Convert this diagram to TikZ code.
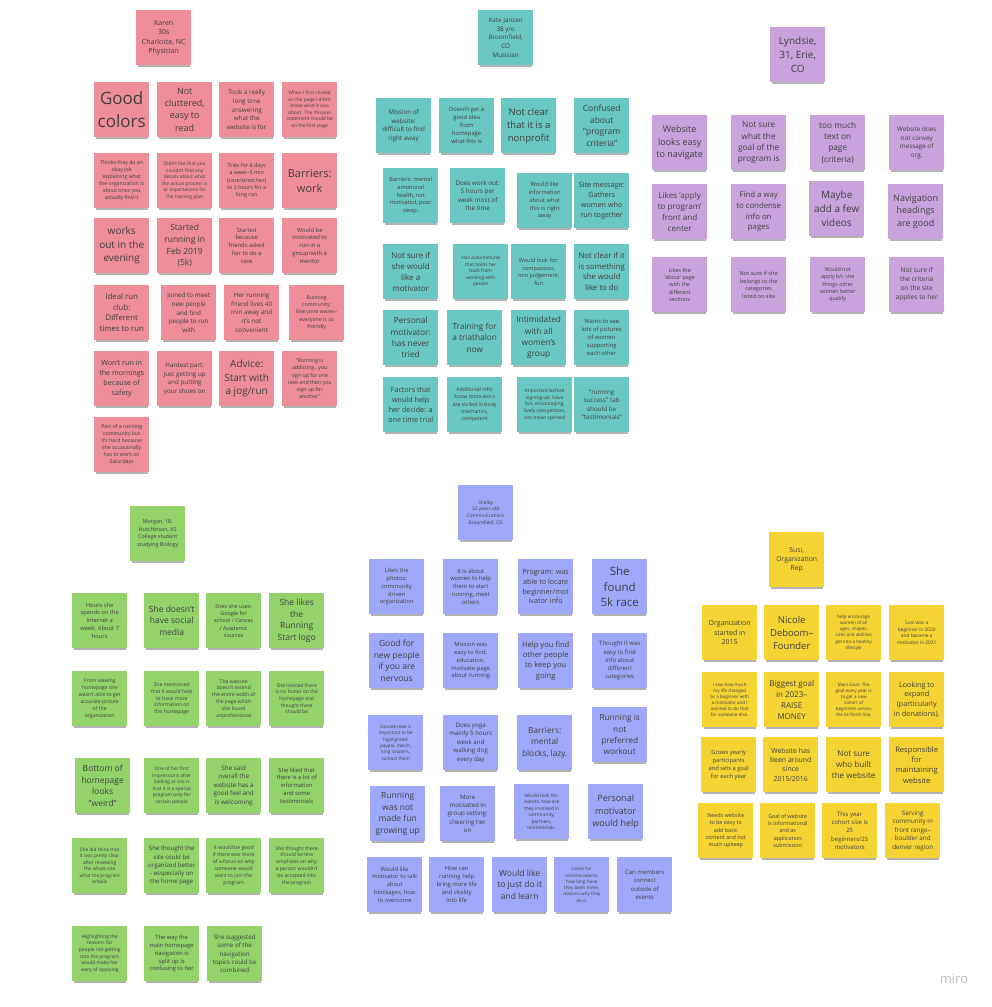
\documentclass[tikz,border=0pt]{standalone}
\usepackage{fontspec}
\setmainfont{Open Sans}
\usetikzlibrary{shadows}
\definecolor{pinkc}{HTML}{EF8D9A}
\definecolor{tealc}{HTML}{69C8C1}
\definecolor{purplec}{HTML}{C9A4DC}
\definecolor{greenc}{HTML}{93D36A}
\definecolor{bluec}{HTML}{A0A8FB}
\definecolor{yellowc}{HTML}{F5D332}
\definecolor{txtc}{HTML}{404040}
\tikzset{
  note/.style={anchor=north west, minimum width=55, minimum height=55, inner sep=1pt,
    align=center, text=txtc,
    drop shadow={shadow xshift=0pt, shadow yshift=-3.5pt, shadow scale=0.94, opacity=0.3, fill=black}},
  fs/.style={font={\pgfmathsetmacro\lh{#1*1.36}\fontsize{#1}{\lh}\selectfont}}
}
\newcommand\nt[6]{\node[note,fill=#1,fs=#5] (#2) at (#3,#4) {#6};}
\begin{document}
\begin{tikzpicture}[x=1pt,y=-1pt]
\fill[white] (0,0) rectangle (992,1007);
\useasboundingbox (0,0) rectangle (992,1007);
% ---------------- Karen
\nt{pinkc}{k0}{136}{10}{7}{Karen\\30s\\Charlotte, NC\\Physician}
\nt{pinkc}{k1}{94}{82}{17}{Good\\colors}
\nt{pinkc}{k2}{157}{82}{9}{Not\\cluttered,\\easy to\\read}
\nt{pinkc}{k3}{219}{82}{6.3}{Took a really\\long time\\answering\\what the\\website is for}
\nt{pinkc}{k4}{282}{82}{4.8}{When I first clicked\\on the page I didn't\\know what it was\\about. The mission\\statement should be\\on the first page}
\nt{pinkc}{k5}{94}{153}{5.2}{Thinks they do an\\okay job\\explaining what\\the organization is\\about once you\\actually find it}
\nt{pinkc}{k6}{157}{153}{4.8}{Didn't like that you\\couldn't find any\\details about what\\the actual process is\\or expectations for\\the training plan}
\nt{pinkc}{k7}{219}{153}{5.4}{Tries for 6 days\\a week--5 min\\(core/stretches)\\to 2 hours for a\\long run}
\nt{pinkc}{k8}{282}{153}{11}{Barriers:\\work}
\nt{pinkc}{k9}{94}{218}{10}{works\\out in the\\evening}
\nt{pinkc}{k10}{157}{218}{8.5}{Started\\running in\\Feb 2019\\(5k)}
\nt{pinkc}{k11}{219}{218}{5.8}{Started\\because\\friends asked\\her to do a\\race}
\nt{pinkc}{k12}{282}{218}{5.8}{Would be\\motivated to\\run in a\\group/with a\\mentor}
\nt{pinkc}{k13}{94}{285}{7.8}{Ideal run\\club:\\Different\\times to run}
\nt{pinkc}{k14}{161}{285}{6.3}{joined to meet\\new people\\and find\\people to run\\with}
\nt{pinkc}{k15}{224}{285}{6.3}{Her running\\friend lives 40\\min away and\\it's not\\convenient}
\nt{pinkc}{k16}{289}{285}{5.2}{Running\\community:\\Everyone waves--\\everyone is so\\friendly}
\nt{pinkc}{k17}{94}{351}{7.2}{Won't run in\\the mornings\\because of\\safety}
\nt{pinkc}{k18}{157}{351}{6.3}{Hardest part:\\Just getting up\\and putting\\your shoes on}
\nt{pinkc}{k19}{219}{351}{10}{Advice:\\Start with\\a jog/run}
\nt{pinkc}{k20}{282}{351}{5.2}{"Running is\\addicting...you\\sign up for one\\race and then you\\sign up for\\another"}
\nt{pinkc}{k21}{94}{417}{5.2}{Part of a running\\community but\\it's hard because\\she occasionally\\has to work on\\Saturdays}
% ---------------- Kate
\nt{tealc}{t0}{478}{10}{6.3}{Kate Janzen\\38 y/o\\Broomfield,\\CO\\Musician}
\nt{tealc}{t1}{376}{98}{6.3}{Mission of\\website:\\difficult to find\\right away}
\nt{tealc}{t2}{439}{98}{5.8}{Doesn't get a\\good idea\\from\\homepage\\what this is}
\nt{tealc}{t3}{501}{98}{9.5}{Not clear\\that it is a\\nonprofit}
\nt{tealc}{t4}{574}{98}{8.5}{Confused\\about\\"program\\criteria"}
\nt{tealc}{t5}{383}{168}{5.6}{Barriers: mental\\emotional\\health, not\\motivated, poor\\sleep.}
\nt{tealc}{t6}{450}{168}{6.3}{Does work out:\\5 hours per\\week most of\\the time}
\nt{tealc}{t7}{517}{173}{5.8}{Would like\\information\\about what\\this is right\\away}
\nt{tealc}{t8}{574}{173}{7.2}{Site message:\\Gathers\\women who\\run together}
\nt{tealc}{t9}{383}{244}{8}{Not sure if\\she would\\like a\\motivator}
\nt{tealc}{t10}{453}{244}{4.8}{Has autoimmune\\that holds her\\back from\\working with\\people}
\nt{tealc}{t11}{511}{244}{5.6}{Would look for:\\compassion,\\non judgement,\\fun}
\nt{tealc}{t12}{574}{244}{7.8}{Not clear if it\\is something\\she would\\like to do}
\nt{tealc}{t13}{383}{310}{8.3}{Personal\\motivator:\\has never\\tried}
\nt{tealc}{t14}{447}{310}{8.3}{Training for\\a triathalon\\now}
\nt{tealc}{t15}{511}{310}{8.3}{Intimidated\\with all\\women's\\group}
\nt{tealc}{t16}{574}{310}{5.8}{Wants to see\\lots of pictures\\of women\\supporting\\each other}
\nt{tealc}{t17}{383}{377}{7.2}{Factors that\\would help\\her decide: a\\one time trial}
\nt{tealc}{t18}{447}{377}{5.2}{Additional info:\\know motivators\\are skilled in body\\mechanics,\\competent}
\nt{tealc}{t19}{517}{377}{4.9}{Important before\\signing up: have\\fun, encouraging,\\lively competition,\\not mean spirited}
\nt{tealc}{t20}{574}{377}{6.3}{"running\\success" tab\\should be\\"testimonials"}
% ---------------- Lyndsie
\nt{purplec}{l0}{770}{27}{10}{Lyndsie,\\31, Erie,\\CO}
\nt{purplec}{l1}{652}{115}{9}{Website\\looks easy\\to navigate}
\nt{purplec}{l2}{731}{115}{8.3}{Not sure\\what the\\goal of the\\program is}
\nt{purplec}{l3}{810}{115}{8.3}{too much\\text on\\page\\(criteria)}
\nt{purplec}{l4}{889}{115}{6.3}{Website does\\not convey\\message of\\org.}
\nt{purplec}{l5}{652}{184}{8.1}{Likes 'apply\\to program'\\front and\\center}
\nt{purplec}{l6}{731}{184}{7.8}{Find a way\\to condense\\info on\\pages}
\nt{purplec}{l7}{809}{181}{10}{Maybe\\add a few\\videos}
\nt{purplec}{l8}{888}{184}{9}{Navigation\\headings\\are good}
\nt{purplec}{l9}{652}{257}{5.4}{Likes the\\'about' page\\with the\\different\\sections}
\nt{purplec}{l10}{731}{257}{5.6}{Not sure if she\\belongs to the\\categories\\listed on site}
\nt{purplec}{l11}{810}{257}{5.4}{Would not\\apply b/c she\\things other\\women better\\qualify}
\nt{purplec}{l12}{889}{257}{6.6}{Not sure if\\the criteria\\on the site\\applies to her}
% ---------------- Morgan
\nt{greenc}{m0}{130}{506}{5.4}{Morgan, 18,\\Hutchinson, KS\\College student\\studying Biology}
\nt{greenc}{m1}{72}{593}{5.8}{Hours she\\spends on the\\internet a\\week: About 7\\hours}
\nt{greenc}{m2}{144}{593}{8.5}{She doesn't\\have social\\media}
\nt{greenc}{m3}{206}{593}{5.4}{Sites she uses:\\Google for\\school / Canvas\\/ Academic\\sources}
\nt{greenc}{m4}{269}{593}{8.5}{She likes\\the\\Running\\Start logo}
\nt{greenc}{m5}{72}{671}{5.1}{From viewing\\homepage she\\wasn't able to get\\accurate picture\\of the\\organization}
\nt{greenc}{m6}{144}{671}{5.1}{She mentioned\\that it would help\\to have more\\information on\\the homepage}
\nt{greenc}{m7}{206}{671}{5}{The website\\doesn't extend\\the entire width of\\the page which\\she found\\unprofessional}
\nt{greenc}{m8}{269}{671}{4.9}{She noticed there\\is no footer on the\\homepage and\\thought there\\should be}
\nt{greenc}{m9}{75}{758}{8.5}{Bottom of\\homepage\\looks\\"weird"}
\nt{greenc}{m10}{144}{758}{4.8}{One of her first\\impressions after\\looking at site is\\that it is a special\\program only for\\certain people}
\nt{greenc}{m11}{206}{758}{6.3}{She said\\overall the\\website has a\\good feel and\\is welcoming}
\nt{greenc}{m12}{269}{758}{5.8}{She liked that\\there is a lot of\\information\\and some\\testimonials}
\nt{greenc}{m13}{72}{838}{4.8}{She did think that\\it was pretty clear\\after reviewing\\the whole site\\what the program\\entails}
\nt{greenc}{m14}{144}{838}{6.1}{She thought the\\site could be\\organized better\\- esspecially on\\the home page}
\nt{greenc}{m15}{206}{838}{5.1}{It would be good\\if there was more\\of a focus on why\\someone would\\want to join the\\program}
\nt{greenc}{m16}{269}{838}{5}{She thought there\\should be less\\emphasis on why\\a person wouldn't\\be accepted into\\the program}
\nt{greenc}{m17}{72}{926}{4.9}{Highlighting the\\reasons for\\people not getting\\into the program\\would make her\\wary of applying}
\nt{greenc}{m18}{144}{926}{5.8}{The way the\\main homepage\\navigation is\\split up is\\confusing to her}
\nt{greenc}{m19}{207}{926}{6.2}{She suggested\\some of the\\navigation\\topics could be\\combined}
% ---------------- Shelby
\nt{bluec}{s0}{458}{485}{4.8}{Shelby\\32 years old\\Communications\\Broomfield, CO}
\nt{bluec}{s1}{369}{559}{5.8}{Likes the\\photos:\\community\\driven\\organization}
\nt{bluec}{s2}{443}{559}{5.8}{It is about\\women to help\\them to start\\running, meet\\others}
\nt{bluec}{s3}{518}{559}{7.2}{Program: was\\able to locate\\beginner/mot\\ivator info}
\nt{bluec}{s4}{592}{559}{11.5}{She\\found\\5k race}
\nt{bluec}{s5}{369}{633}{8.5}{Good for\\new people\\if you are\\nervous}
\nt{bluec}{s6}{443}{633}{5.8}{Mission was\\easy to find:\\education,\\motivate page\\about running}
\nt{bluec}{s7}{518}{633}{7.6}{Help you find\\other people\\to keep you\\going}
\nt{bluec}{s8}{592}{633}{6}{Thought it was\\easy to find\\info about\\different\\categories}
\nt{bluec}{s9}{368}{715}{4.6}{Donate now is\\important to be\\highlighted:\\paypal, merch,\\king soopers,\\contact them}
\nt{bluec}{s10}{443}{715}{6.2}{Does yoga\\mainly 5 hours\\week and\\walking dog\\every day}
\nt{bluec}{s11}{517}{715}{8.3}{Barriers:\\mental\\blocks, lazy.}
\nt{bluec}{s12}{592}{707}{8.3}{Running is\\not\\preferred\\workout}
\nt{bluec}{s13}{370}{786}{8.5}{Running\\was not\\made fun\\growing up}
\nt{bluec}{s14}{440}{786}{6.2}{More\\motivated in\\group setting:\\cheering her\\on}
\nt{bluec}{s15}{514}{784}{4.8}{Would look for:\\events, how are\\they involved in\\community,\\partners,\\testimonials.}
\nt{bluec}{s16}{588}{784}{9}{Personal\\motivator\\would help}
\nt{bluec}{s17}{367}{857}{5.8}{Would like\\motivator to talk\\about\\blockages, how\\to overcome}
\nt{bluec}{s18}{429}{857}{5.9}{How can\\running help\\bring more life\\and vitality\\into life}
\nt{bluec}{s19}{492}{857}{8.5}{Would like\\to just do it\\and learn}
\nt{bluec}{s20}{554}{857}{4.6}{Looks for\\commoraderie,\\how long have\\they been there,\\reasons why they\\do it.}
\nt{bluec}{s21}{617}{857}{6}{Can members\\connect\\outside of\\events}
% ---------------- Susi
\nt{yellowc}{y0}{769}{532}{6.8}{Susi,\\Organization\\Rep}
\nt{yellowc}{y1}{702}{605}{7}{Organization\\started in\\2015}
\nt{yellowc}{y2}{764}{605}{9.5}{Nicole\\Deboom--\\Founder}
\nt{yellowc}{y3}{826}{605}{4.5}{help encourage\\women of all\\ages, shapes,\\sizes and abilities\\get into a healthy\\lifestyle}
\nt{yellowc}{y4}{889}{605}{4.8}{Susi was a\\beginner in 2020\\and became a\\motivator in 2021}
\nt{yellowc}{y5}{702}{672}{4.5}{I saw how much\\my life changed\\as a beginner with\\a motivator and I\\wanted to do that\\for someone else.}
\nt{yellowc}{y6}{764}{672}{8}{Biggest goal\\in 2023--\\RAISE\\MONEY}
\nt{yellowc}{y7}{826}{672}{4.5}{Main Goal: The\\goal every year is\\to get a new\\cohort of\\beginners across\\the 5k finish line.}
\nt{yellowc}{y8}{889}{672}{7.2}{Looking to\\expand\\(particularly\\in donations).}
\nt{yellowc}{y9}{701}{737}{5.8}{Grows yearly\\participants\\and sets a goal\\for each year}
\nt{yellowc}{y10}{763}{737}{6.9}{Website has\\been around\\since\\2015/2016}
\nt{yellowc}{y11}{826}{737}{8.1}{Not sure\\who built\\the website}
\nt{yellowc}{y12}{889}{737}{7.6}{Responsible\\for\\maintaining\\website}
\nt{yellowc}{y13}{698}{803}{5.4}{Needs website\\to be easy to\\add basic\\content and not\\much upkeep}
\nt{yellowc}{y14}{760}{803}{5.4}{Goal of website\\is informational\\and as\\application\\submission}
\nt{yellowc}{y15}{822}{803}{6}{This year\\cohort size is\\25\\beginners/25\\motivators}
\nt{yellowc}{y16}{885}{803}{6.3}{Serving\\community in\\front range--\\boulder and\\denver region}
% logo
\node[text=black!25, font=\fontsize{13}{15}\selectfont] (logo) at (954,979) {miro};
\end{tikzpicture}
\end{document}
